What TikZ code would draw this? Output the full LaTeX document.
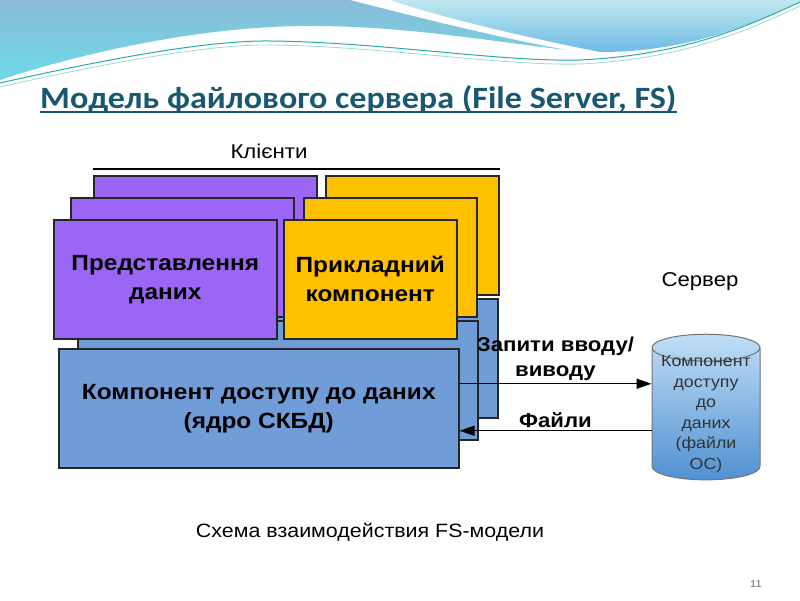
\documentclass[tikz,border=0pt]{standalone}
\usepackage{fontspec}
\setmainfont[FakeStretch=1.11]{Liberation Sans}
\newfontfamily\titlefont[FakeStretch=1.1]{Carlito}
\usetikzlibrary{arrows.meta,shapes.geometric,positioning}

\definecolor{purplebox}{RGB}{155,102,245}
\definecolor{orangebox}{RGB}{255,192,0}
\definecolor{bluebox}{RGB}{112,157,216}
\definecolor{titleblue}{RGB}{24,88,112}
\definecolor{wavea}{RGB}{110,218,232}
\definecolor{waveb}{RGB}{138,188,216}
\definecolor{wavec}{RGB}{192,232,238}
\definecolor{waved}{RGB}{110,186,230}
\definecolor{waveline}{RGB}{40,170,170}
\definecolor{dbtop}{RGB}{192,222,246}
\definecolor{dbbottom}{RGB}{80,145,210}

\begin{document}
\begin{tikzpicture}[x=1pt,y=-1pt]
\tikzstyle{layer} = [rectangle, draw=black!85, line width=1.5pt, anchor=north west,
inner sep=0pt, align=center, font=\bfseries\fontsize{22}{29}\selectfont]
\tikzstyle{present} = [layer, fill=purplebox, minimum width=223pt, minimum height=119pt]
\tikzstyle{applic} = [layer, fill=orangebox, minimum width=173pt, minimum height=119pt]
\tikzstyle{access} = [layer, fill=bluebox, minimum width=400pt, minimum height=119pt]
\tikzstyle{line} = [draw, line width=1.4pt, -{Triangle[length=15pt,width=10pt]}]
\tikzstyle{label} = [font=\bfseries\fontsize{20}{25}\selectfont, inner sep=2pt]
\useasboundingbox (0,0) rectangle (800,600);
% header wave
\shade[top color=waveb, bottom color=wavea] (0,0) -- (350,0)
  .. controls (420,18) and (500,38) .. (567,50)
  .. controls (480,40) and (400,25) .. (300,26)
  .. controls (180,28) and (60,60) .. (0,80) -- cycle;
\shade[top color=wavec, bottom color=waved] (390,0)
  .. controls (450,20) and (530,38) .. (600,52)
  .. controls (680,52) and (740,30) .. (800,2) -- (800,0) -- cycle;
\draw[waveline, line width=1pt] (0,83) .. controls (80,65) and (200,40) .. (270,41)
  .. controls (380,42) and (500,62) .. (580,60)
  .. controls (680,55) and (740,30) .. (800,2);
\draw[waveline!45, line width=0.8pt] (0,87) .. controls (80,69) and (200,44) .. (270,45)
  .. controls (380,46) and (500,66) .. (580,64)
  .. controls (680,59) and (740,34) .. (800,6);
% title
\node[anchor=base west, inner sep=0pt, text=titleblue,
  font=\titlefont\bfseries\fontsize{31}{36}\selectfont] (title) at (40,108)
  {Модель файлового сервера (File Server, FS)};
\draw[titleblue, line width=2pt] ([yshift=-4pt]title.base west) -- ([yshift=-4pt]title.base east);
% clients
\node[access] (access3) at (97,298) {};
\node[access] (access2) at (77,320) {};
\node[access] (access) at (58,348) {Компонент доступу до даних\\(ядро СКБД)};
\node[present] (present3) at (93,175) {};
\node[present] (present2) at (70,197) {};
\node[applic] (applic3) at (325,175) {};
\node[applic] (applic2) at (303,197) {};
\node[present] (present) at (53,219) {Представлення\\даних};
\node[applic] (applic) at (283,219) {Прикладний\\компонент};
\draw[line width=2pt] ([yshift=6pt]present3.north west) -- ([yshift=6pt]applic3.north east)
  node[pos=0.433, above=6pt, font=\fontsize{20}{22}\selectfont] (clients) {Клієнти};
% server
\node[cylinder, shape border rotate=90, aspect=0.3, draw=black!55, line width=1pt,
  top color=dbtop, bottom color=dbbottom, minimum width=108pt, minimum height=100pt,
  inner xsep=0pt, inner ysep=-6pt, align=center, text=black!80,
  font=\fontsize{16}{20.5}\selectfont] (dbase) at (706,414)
  {Компонент\\доступу\\до\\даних\\(файли\\ОС)};
\node[above=40pt of dbase, xshift=-6pt, font=\fontsize{20}{24}\selectfont] (server) {Сервер};
\coordinate (reqstart) at ([yshift=24.5pt]access.east);
\coordinate (filesend) at ([yshift=-22.5pt]access.east);
\draw[line] (reqstart) -- (reqstart -| dbase.west)
  node[label, midway, above, align=center] {Запити вводу/\\виводу};
\draw[line] (filesend -| dbase.west) -- (filesend)
  node[label, midway, above] {Файли};
% caption
\node[font=\fontsize{19.3}{22}\selectfont] (caption) at (370,532) {Схема взаимодействия FS-модели};
\node[font=\fontsize{10}{12}\selectfont, text=black!60] (pagenum) at (756,584) {11};
\end{tikzpicture}
\end{document}
